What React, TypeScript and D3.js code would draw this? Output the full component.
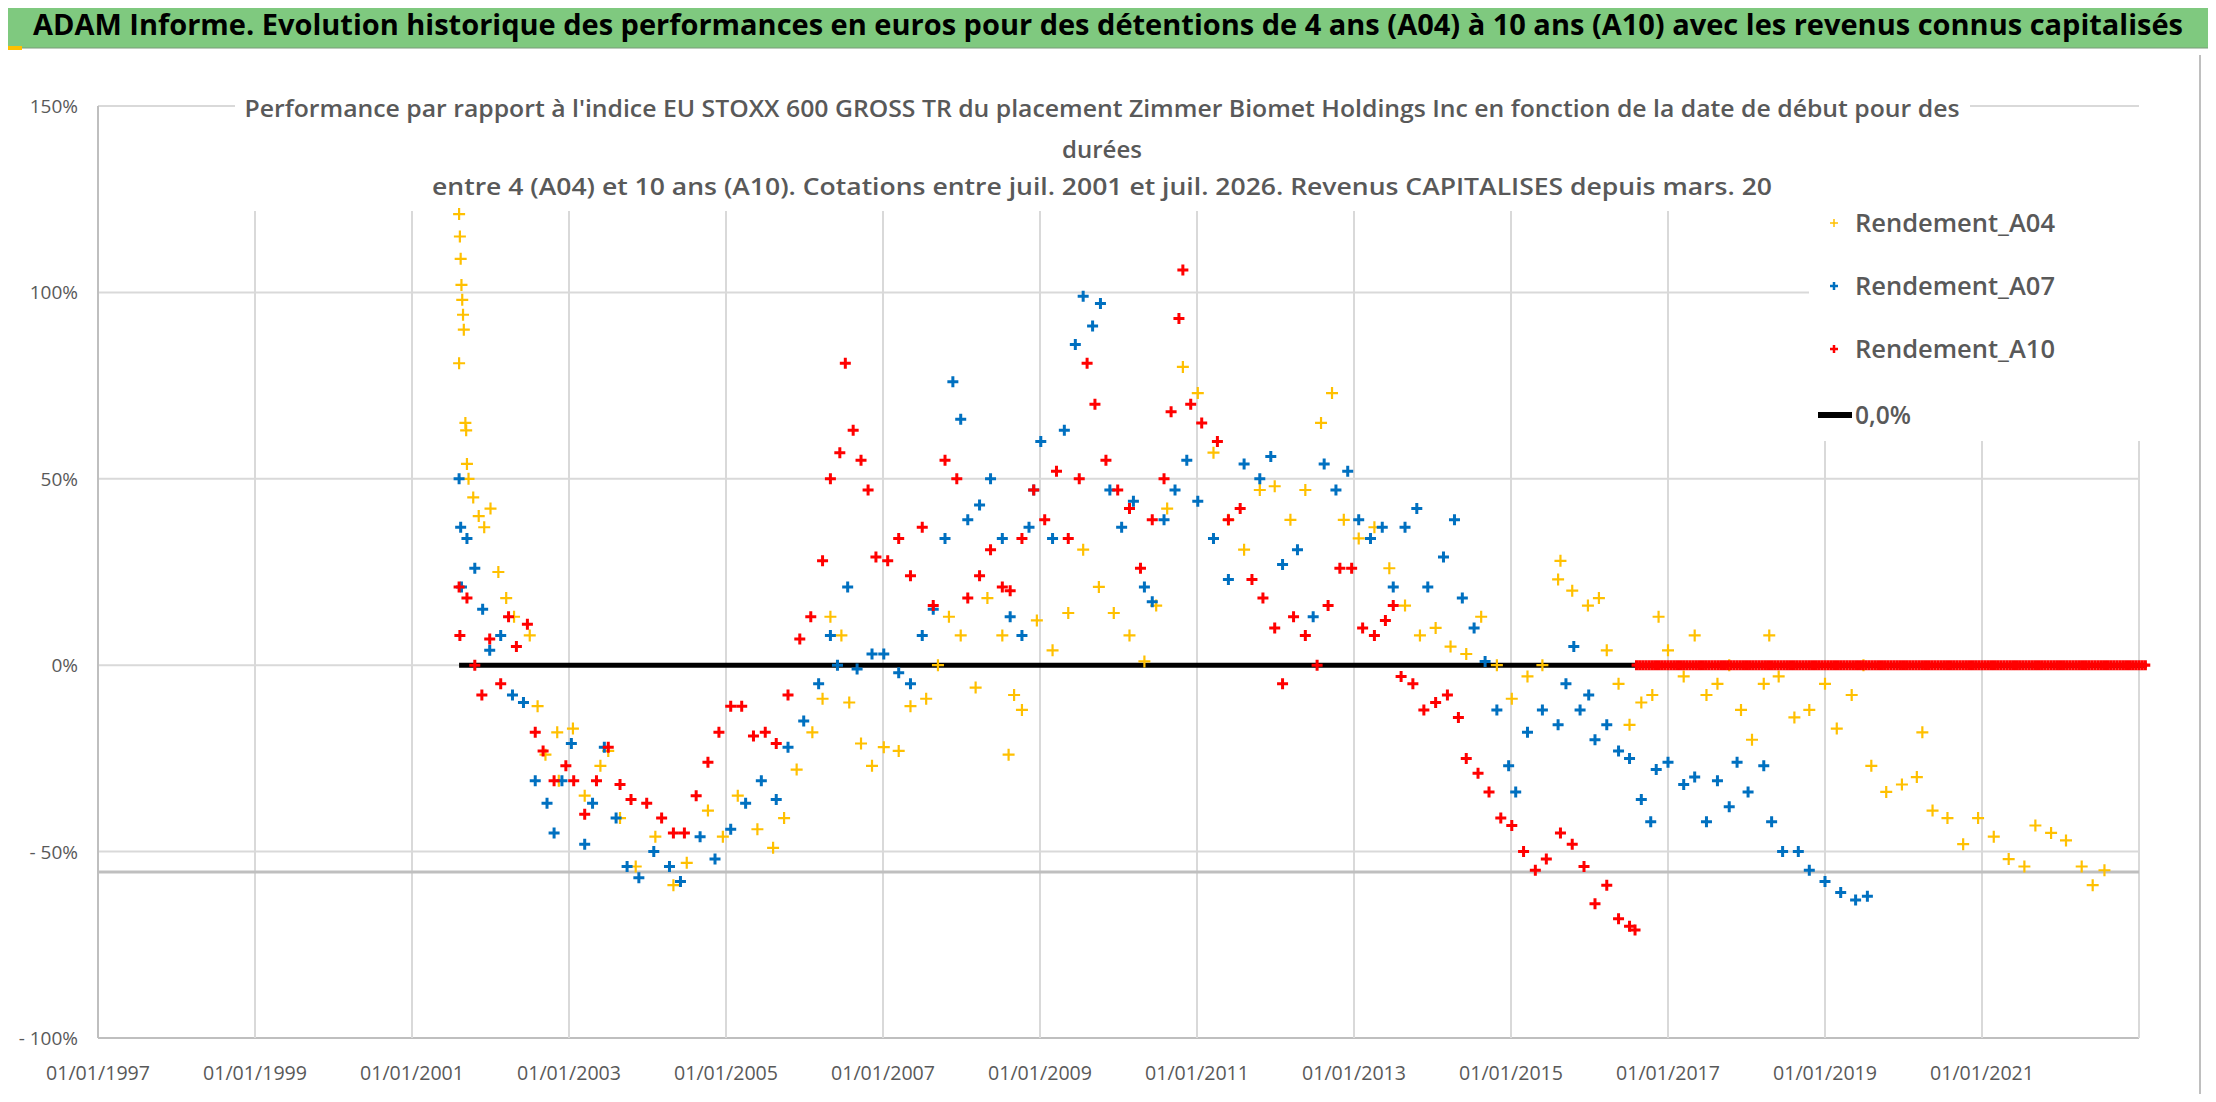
import React, { useEffect, useRef } from 'react';
import * as d3 from 'd3';

// [decimal year, performance %]
const rendementA04: [number, number][] = [
  [2001.6, 121], [2001.61, 115], [2001.62, 109], [2001.63, 102], [2001.64, 98], [2001.65, 94], [2001.66, 90], [2001.6, 81],
  [2001.68, 65], [2001.69, 63], [2001.7, 54], [2001.72, 50], [2001.78, 45], [2001.85, 40], [2001.92, 37], [2002.0, 42],
  [2002.1, 25], [2002.2, 18], [2002.3, 13], [2002.5, 8], [2002.6, -11], [2002.7, -24], [2002.85, -18], [2002.87, -31],
  [2003.05, -17], [2003.2, -35], [2003.4, -27], [2003.5, -23], [2003.65, -41], [2003.85, -54], [2004.1, -46], [2004.33, -59],
  [2004.5, -53], [2004.77, -39], [2004.96, -46], [2005.15, -35], [2005.4, -44], [2005.6, -49], [2005.74, -41], [2005.9, -28],
  [2006.1, -18], [2006.23, -9], [2006.33, 13], [2006.47, 8], [2006.57, -10], [2006.72, -21], [2006.86, -27], [2007.01, -22],
  [2007.2, -23], [2007.35, -11], [2007.55, -9], [2007.7, 0], [2007.84, 13], [2007.99, 8], [2008.18, -6], [2008.33, 18],
  [2008.52, 8], [2008.6, -24], [2008.67, -8], [2008.77, -12], [2008.96, 12], [2009.16, 4], [2009.36, 14], [2009.55, 31],
  [2009.75, 21], [2009.94, 14], [2010.14, 8], [2010.33, 1], [2010.48, 16], [2010.62, 42], [2010.82, 80], [2011.01, 73],
  [2011.21, 57], [2011.4, 39], [2011.6, 31], [2011.8, 47], [2011.99, 48], [2012.19, 39], [2012.38, 47], [2012.58, 65],
  [2012.72, 73], [2012.87, 39], [2013.06, 34], [2013.26, 37], [2013.45, 26], [2013.65, 16], [2013.84, 8], [2014.04, 10],
  [2014.23, 5], [2014.43, 3], [2014.62, 13], [2014.82, 0], [2015.01, -9], [2015.21, -3], [2015.4, 0], [2015.6, 23],
  [2015.63, 28], [2015.78, 20], [2015.98, 16], [2016.12, 18], [2016.22, 4], [2016.37, -5], [2016.51, -16], [2016.66, -10],
  [2016.8, -8], [2016.88, 13], [2017.0, 4], [2017.2, -3], [2017.34, 8], [2017.49, -8], [2017.63, -5], [2017.78, 0],
  [2017.93, -12], [2018.07, -20], [2018.22, -5], [2018.29, 8], [2018.41, -3], [2018.61, -14], [2018.8, -12], [2019.0, -5],
  [2019.15, -17], [2019.34, -8], [2019.49, 0], [2019.59, -27], [2019.78, -34], [2019.98, -32], [2020.17, -30], [2020.24, -18],
  [2020.37, -39], [2020.56, -41], [2020.76, -48], [2020.95, -41], [2021.15, -46], [2021.34, -52], [2021.54, -54], [2021.68, -43],
  [2021.88, -45], [2022.07, -47], [2022.27, -54], [2022.41, -59], [2022.56, -55],
];

const rendementA07: [number, number][] = [
  [2001.6, 50], [2001.62, 37], [2001.63, 21], [2001.7, 34], [2001.8, 26], [2001.9, 15], [2001.99, 4], [2002.13, 8],
  [2002.28, -8], [2002.42, -10], [2002.57, -31], [2002.72, -37], [2002.81, -45], [2002.91, -31], [2003.03, -21], [2003.2, -48],
  [2003.3, -37], [2003.45, -22], [2003.6, -41], [2003.74, -54], [2003.89, -57], [2004.08, -50], [2004.28, -54], [2004.42, -58],
  [2004.67, -46], [2004.86, -52], [2005.06, -44], [2005.25, -37], [2005.45, -31], [2005.64, -36], [2005.79, -22], [2005.99, -15],
  [2006.18, -5], [2006.33, 8], [2006.42, 0], [2006.55, 21], [2006.67, -1], [2006.86, 3], [2007.01, 3], [2007.2, -2],
  [2007.35, -5], [2007.5, 8], [2007.64, 15], [2007.79, 34], [2007.89, 76], [2007.99, 66], [2008.08, 39], [2008.23, 43],
  [2008.37, 50], [2008.52, 34], [2008.62, 13], [2008.77, 8], [2008.86, 37], [2008.92, 47], [2009.01, 60], [2009.16, 34],
  [2009.31, 63], [2009.45, 86], [2009.55, 99], [2009.67, 91], [2009.77, 97], [2009.89, 47], [2010.04, 37], [2010.19, 44],
  [2010.33, 21], [2010.43, 17], [2010.58, 39], [2010.72, 47], [2010.87, 55], [2011.01, 44], [2011.21, 34], [2011.4, 23],
  [2011.6, 54], [2011.8, 50], [2011.94, 56], [2012.09, 27], [2012.28, 31], [2012.48, 13], [2012.62, 54], [2012.77, 47],
  [2012.92, 52], [2013.06, 39], [2013.21, 34], [2013.36, 37], [2013.5, 21], [2013.65, 37], [2013.8, 42], [2013.94, 21],
  [2014.14, 29], [2014.28, 39], [2014.38, 18], [2014.53, 10], [2014.67, 1], [2014.82, -12], [2014.97, -27], [2015.06, -34],
  [2015.21, -18], [2015.4, -12], [2015.6, -16], [2015.7, -5], [2015.8, 5], [2015.88, -12], [2015.99, -8], [2016.07, -20],
  [2016.22, -16], [2016.37, -23], [2016.51, -25], [2016.66, -36], [2016.78, -42], [2016.85, -28], [2017.0, -26], [2017.2, -32],
  [2017.34, -30], [2017.49, -42], [2017.63, -31], [2017.78, -38], [2017.88, -26], [2018.02, -34], [2018.22, -27], [2018.32, -42],
  [2018.46, -50], [2018.66, -50], [2018.8, -55], [2019.0, -58], [2019.2, -61], [2019.39, -63], [2019.54, -62],
];

const rendementA10: [number, number][] = [
  [2001.6, 21], [2001.61, 8], [2001.7, 18], [2001.8, 0], [2001.89, -8], [2001.99, 7], [2002.13, -5], [2002.23, 13],
  [2002.33, 5], [2002.47, 11], [2002.57, -18], [2002.67, -23], [2002.81, -31], [2002.96, -27], [2003.06, -31], [2003.2, -40],
  [2003.35, -31], [2003.5, -22], [2003.65, -32], [2003.79, -36], [2003.99, -37], [2004.18, -41], [2004.33, -45], [2004.47, -45],
  [2004.62, -35], [2004.77, -26], [2004.91, -18], [2005.06, -11], [2005.2, -11], [2005.35, -19], [2005.5, -18], [2005.64, -21],
  [2005.79, -8], [2005.94, 7], [2006.08, 13], [2006.23, 28], [2006.33, 50], [2006.45, 57], [2006.52, 81], [2006.62, 63],
  [2006.72, 55], [2006.81, 47], [2006.91, 29], [2007.06, 28], [2007.2, 34], [2007.35, 24], [2007.5, 37], [2007.64, 16],
  [2007.79, 55], [2007.94, 50], [2008.08, 18], [2008.23, 24], [2008.37, 31], [2008.52, 21], [2008.62, 20], [2008.77, 34],
  [2008.92, 47], [2009.06, 39], [2009.21, 52], [2009.36, 34], [2009.5, 50], [2009.6, 81], [2009.7, 70], [2009.84, 55],
  [2009.99, 47], [2010.14, 42], [2010.28, 26], [2010.43, 39], [2010.58, 50], [2010.67, 68], [2010.77, 93], [2010.82, 106],
  [2010.92, 70], [2011.06, 65], [2011.26, 60], [2011.4, 39], [2011.55, 42], [2011.7, 23], [2011.84, 18], [2011.99, 10],
  [2012.09, -5], [2012.23, 13], [2012.38, 8], [2012.53, 0], [2012.67, 16], [2012.82, 26], [2012.97, 26], [2013.11, 10],
  [2013.26, 8], [2013.4, 12], [2013.5, 16], [2013.6, -3], [2013.75, -5], [2013.89, -12], [2014.04, -10], [2014.19, -8],
  [2014.33, -14], [2014.43, -25], [2014.58, -29], [2014.72, -34], [2014.87, -41], [2015.01, -43], [2015.16, -50], [2015.31, -55],
  [2015.45, -52], [2015.63, -45], [2015.78, -48], [2015.93, -54], [2016.07, -64], [2016.22, -59], [2016.37, -68], [2016.51, -70],
  [2016.58, -71],
];

// A10 values reported as 0 once the holding period runs past the last quote
const a10ZeroStart = 2016.6;
const a10ZeroEnd = 2023.1;
const zeroLineStart = 2001.6;
const refLevel = -55.5;

const yTicks = [150, 100, 50, 0, -50, -100];
const xTicks = d3.range(1997, 2023, 2);
const legendItems = ['Rendement_A04', 'Rendement_A07', 'Rendement_A10'];
const colors = ['#FFC000', '#0070C0', '#FF0000'];

const W = 2216;
const H = 1102;

export default function App() {
  const ref = useRef<SVGSVGElement>(null);

  useEffect(() => {
    if (!ref.current) return;
    const svg = d3.select(ref.current);
    svg.selectAll('*').remove();
    const font = 'Open Sans, sans-serif';
    const grey = '#595959';

    const x = d3.scaleLinear().domain([1997, 2023]).range([98, 2139]);
    const y = d3.scaleLinear().domain([-100, 150]).range([1038, 106]);

    svg.append('rect').attr('width', W).attr('height', H).attr('fill', '#fff');

    // title bar
    svg.append('rect').attr('x', 0).attr('y', 0).attr('width', W).attr('height', 48)
      .attr('fill', '#7FC97F').attr('stroke', '#7a9a7a');
    svg.append('rect').attr('x', 0).attr('y', 46).attr('width', 22).attr('height', 4).attr('fill', '#FFC000');
    svg.append('text').attr('x', W / 2).attr('y', 35).attr('text-anchor', 'middle')
      .attr('font-family', font).attr('font-weight', 700).attr('font-size', 29)
      .attr('textLength', 2150).attr('lengthAdjust', 'spacingAndGlyphs').attr('fill', '#000')
      .text('ADAM Informe. Evolution historique des performances en euros pour des détentions de 4 ans (A04) à 10 ans (A10) avec les revenus connus capitalisés');
    svg.append('line').attr('x1', 2200).attr('x2', 2200).attr('y1', 55).attr('y2', H)
      .attr('stroke', '#bfbfbf').attr('stroke-width', 2);

    // grid
    const g = svg.append('g');
    yTicks.forEach(t => {
      g.append('line').attr('x1', x(1997)).attr('x2', x(2023)).attr('y1', y(t)).attr('y2', y(t))
        .attr('stroke', t === -100 ? '#bfbfbf' : '#d9d9d9').attr('stroke-width', 2);
    });
    xTicks.concat([2023]).forEach(t => {
      g.append('line').attr('x1', x(t)).attr('x2', x(t)).attr('y1', t === 1997 ? y(150) : 211).attr('y2', y(-100))
        .attr('stroke', t === 1997 ? '#bfbfbf' : '#d9d9d9').attr('stroke-width', 2);
    });
    g.append('line').attr('x1', x(1997)).attr('x2', x(2023)).attr('y1', y(refLevel)).attr('y2', y(refLevel))
      .attr('stroke', '#bfbfbf').attr('stroke-width', 3);

    // subtitle
    svg.append('rect').attr('x', 235).attr('y', 86).attr('width', 1735).attr('height', 118).attr('fill', '#fff');
    const sub = [
      [117, "Performance par rapport à l'indice EU STOXX 600 GROSS TR  du placement Zimmer Biomet Holdings Inc en fonction de la date de début pour des", 1715],
      [158, 'durées', 0],
      [195, 'entre 4 (A04) et 10 ans (A10). Cotations entre juil. 2001 et juil. 2026. Revenus CAPITALISES depuis mars. 20', 1340],
    ] as [number, string, number][];
    sub.forEach(([yy, t, len]) => {
      const tx = svg.append('text').attr('x', 1102).attr('y', yy).attr('text-anchor', 'middle')
        .attr('font-family', font).attr('font-weight', 600).attr('font-size', 24).attr('fill', grey).text(t);
      if (len) tx.attr('textLength', len).attr('lengthAdjust', 'spacingAndGlyphs');
    });

    // axis labels
    yTicks.forEach(t => {
      svg.append('text').attr('x', 78).attr('y', y(t) + 7).attr('text-anchor', 'end')
        .attr('font-family', font).attr('font-size', 19).attr('fill', grey)
        .text(t < 0 ? `- ${-t}%` : `${t}%`);
    });
    xTicks.forEach(t => {
      svg.append('text').attr('x', x(t)).attr('y', 1080).attr('text-anchor', 'middle')
        .attr('font-family', font).attr('font-size', 20).attr('fill', grey)
        .attr('textLength', 104).attr('lengthAdjust', 'spacingAndGlyphs')
        .text(`01/01/${t}`);
    });

    // zero line
    svg.append('line').attr('x1', x(zeroLineStart)).attr('x2', x(a10ZeroEnd)).attr('y1', y(0)).attr('y2', y(0))
      .attr('stroke', '#000').attr('stroke-width', 5);

    const plus = (sel: d3.Selection<SVGGElement, unknown, null, undefined>, pts: [number, number][], color: string, r: number, sw: number) => {
      sel.selectAll(null).data(pts).enter().append('path')
        .attr('d', d => `M${x(d[0]) - r},${y(d[1])}h${2 * r}M${x(d[0])},${y(d[1]) - r}v${2 * r}`)
        .attr('stroke', color).attr('stroke-width', sw).attr('fill', 'none');
    };
    const marks = svg.append('g');
    plus(marks, rendementA04, colors[0], 6, 2.2);
    plus(marks, rendementA07, colors[1], 5.5, 3);
    plus(marks, rendementA10, colors[2], 5.5, 3);
    const zeros = d3.range(a10ZeroStart, a10ZeroEnd, 0.04).map(t => [t, 0] as [number, number]);
    plus(marks, zeros, colors[2], 5, 3.2);

    // legend
    svg.append('rect').attr('x', 1809).attr('y', 198).attr('width', 340).attr('height', 243).attr('fill', '#fff');
    legendItems.forEach((l, i) => {
      const ly = 223 + i * 63;
      plus(svg.append('g') as any, [[x.invert(1834), y.invert(ly)]], colors[i], 4, i === 0 ? 1.5 : 2.5);
      svg.append('text').attr('x', 1855).attr('y', ly + 9).attr('font-family', font).attr('font-weight', 600)
        .attr('font-size', 26).attr('fill', grey).attr('textLength', 200).attr('lengthAdjust', 'spacingAndGlyphs').text(l);
    });
    svg.append('line').attr('x1', 1818).attr('x2', 1852).attr('y1', 415).attr('y2', 415).attr('stroke', '#000').attr('stroke-width', 6);
    svg.append('text').attr('x', 1855).attr('y', 424).attr('font-family', font).attr('font-weight', 600)
      .attr('font-size', 26).attr('fill', grey).attr('textLength', 56).attr('lengthAdjust', 'spacingAndGlyphs').text('0,0%');
  }, []);

  return <svg ref={ref} width={W} height={H} style={{ display: 'block', margin: -8 }} />;
}
